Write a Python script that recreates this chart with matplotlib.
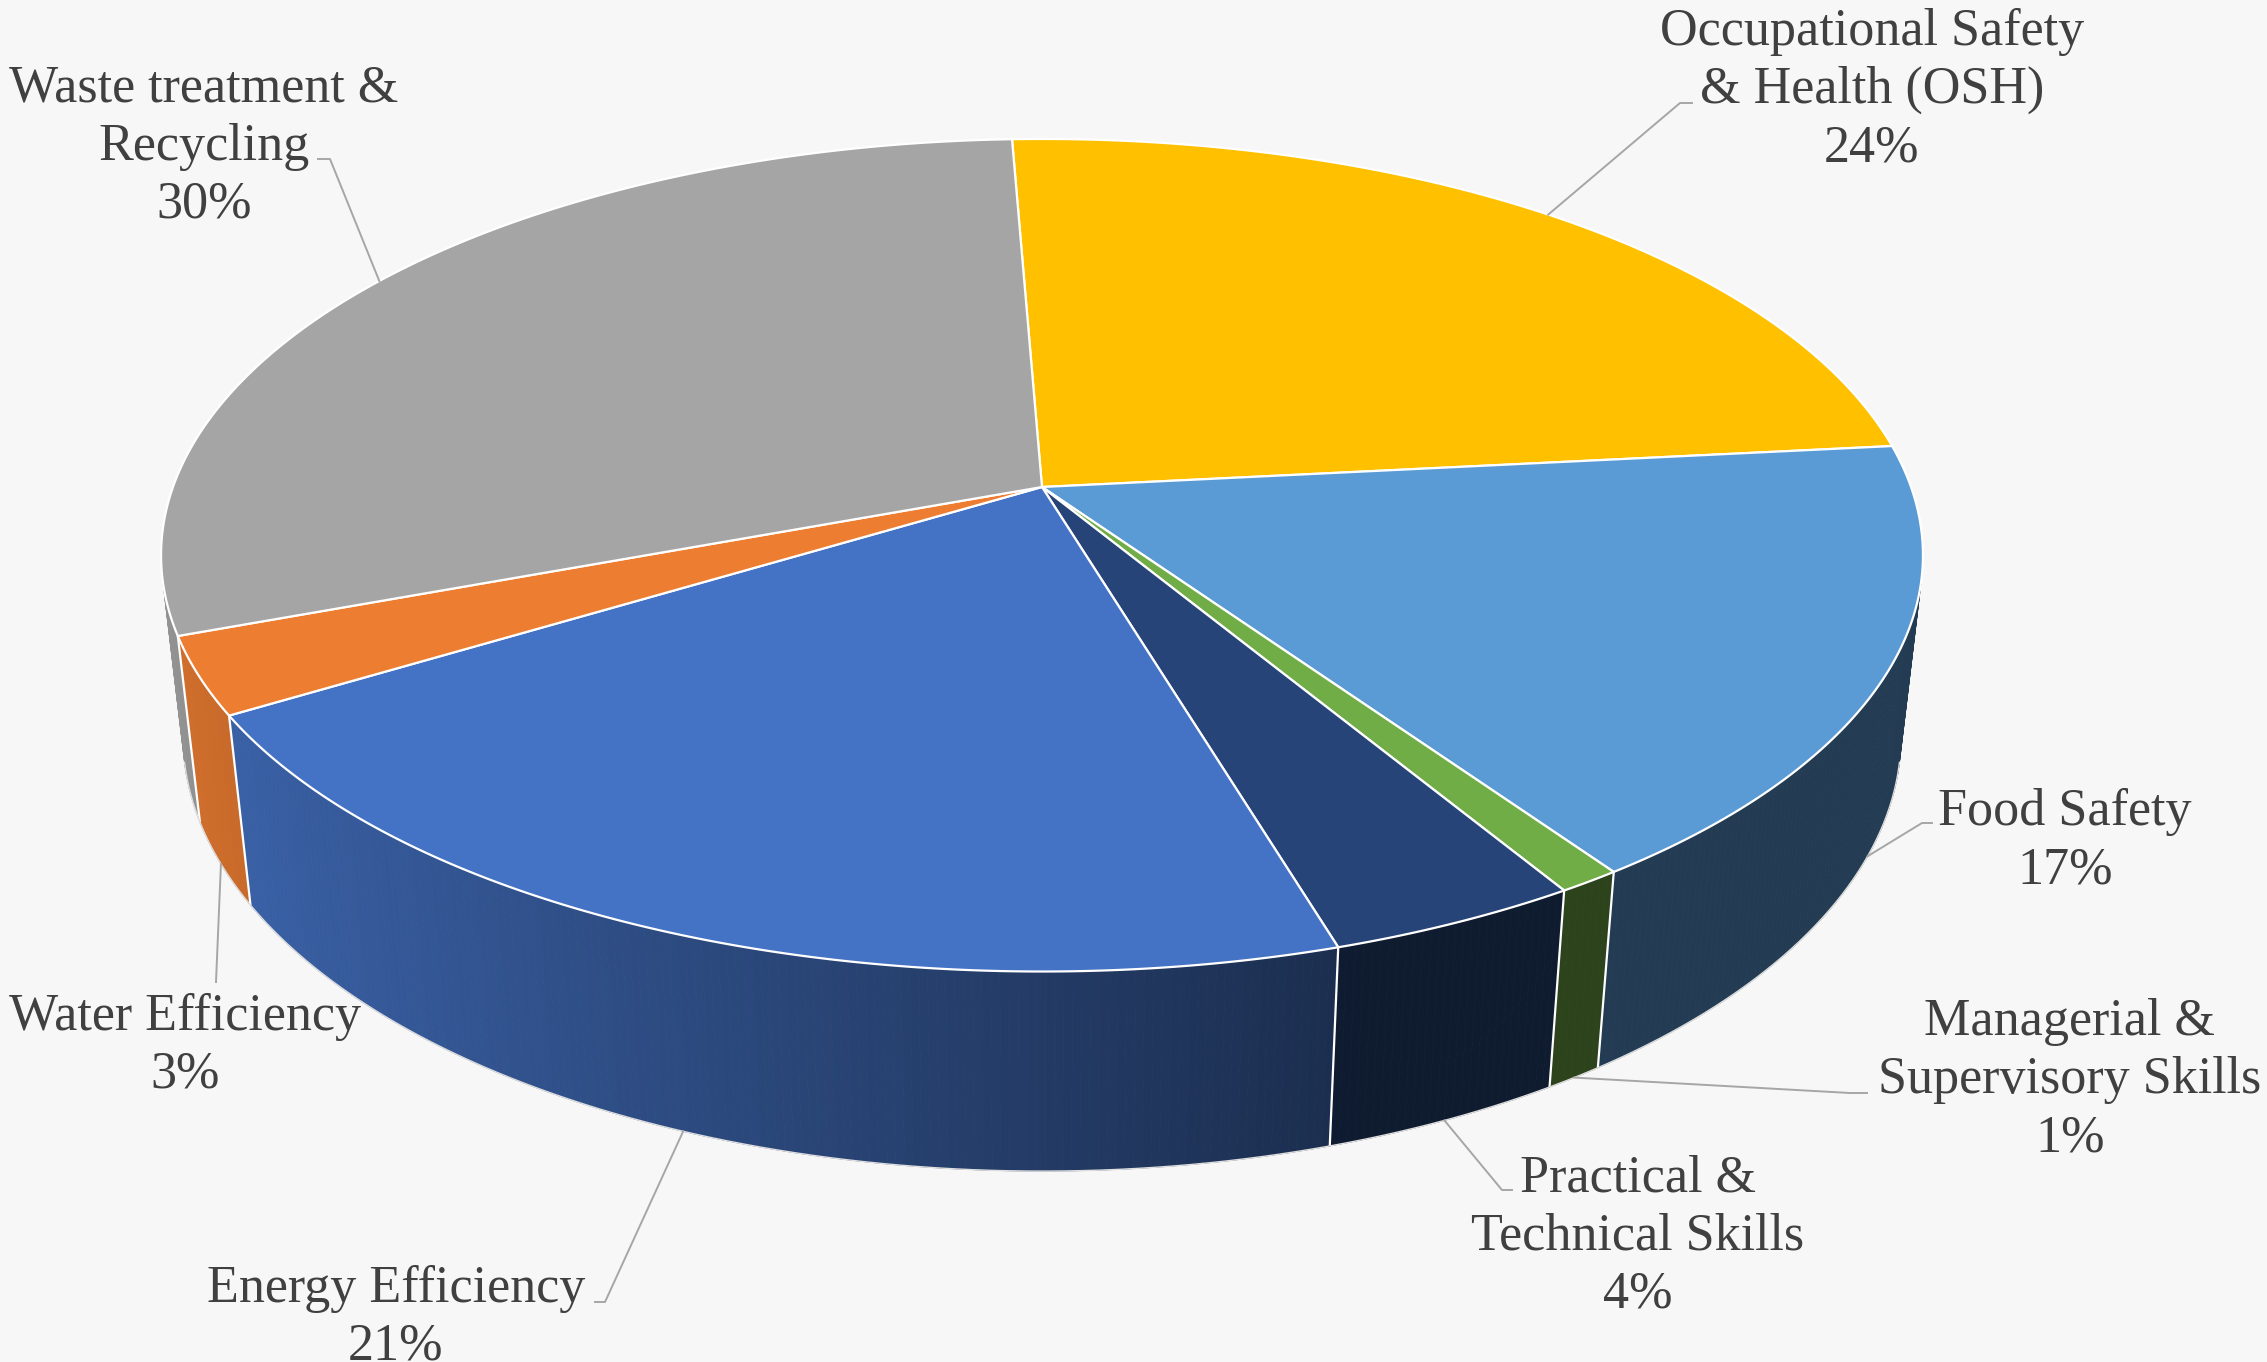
import numpy as np
import matplotlib.pyplot as plt
from matplotlib.patches import Polygon
from matplotlib.colors import to_rgb

# slices, clockwise from 12 o'clock
labels = ["Occupational Safety\n& Health (OSH)", "Food Safety",
          "Managerial &\nSupervisory Skills", "Practical &\nTechnical Skills",
          "Energy Efficiency", "Water Efficiency", "Waste treatment &\nRecycling"]
shares = [24, 17, 1, 4, 21, 3, 30]
colors = ["#FFC000", "#5B9BD5", "#70AD47", "#264478", "#4472C4", "#ED7D31", "#A5A5A5"]

# label layout (pixels): centre x, first baseline y, leader elbow points
label_pos = [(1872, 45), (2065, 825), (2070, 1035), (1638, 1191),
             (396, 1302), (185, 1030), (204, 102)]
leader_pts = [[(1692, 103), (1680, 103)], [(1932, 823), (1922, 823)],
              [(1867, 1093), (1850, 1093)], [(1512, 1190), (1502, 1190)],
              [(595, 1302), (605, 1302)], [(216, 982)], [(318, 159), (330, 159)]]

# perspective view of the disc
CX, CY = 1042, 487
KX, KY = 5301, 2471
R = 6.1
ELEV = np.radians(30)
TAN_E = np.tan(ELEV)
H = 0.262
START = -2.3
LIM = 1 / (R * np.cos(ELEV) ** 2)   # rim faces viewer where sin(theta) < -LIM

BG = "#f7f7f7"
TXT = "#404040"


def proj(theta, z=0.0):
    X, Y = np.cos(theta), np.sin(theta)
    d = R + Y - TAN_E * z
    return CX + KX * X / d, CY - KY * (Y + z / TAN_E) / d


def shade(c, X):
    f = np.clip(0.9 - 0.384 * (X + 1), 0.39, 0.9)
    return tuple(np.array(to_rgb(c)) * f)


fig = plt.figure(figsize=(22.67, 13.62), dpi=100)
fig.patch.set_facecolor(BG)
ax = fig.add_axes([0, 0, 1, 1])
ax.set_xlim(0, 2267)
ax.set_ylim(1362, 0)
ax.axis("off")

# slice angles (math convention, radians)
bounds = START + np.concatenate([[0], np.cumsum(shares)]) * 3.6
th = np.radians(90 - bounds)
vis_lo, vis_hi = -np.pi + np.arcsin(LIM), -np.arcsin(LIM)

# outer rim
for i, c in enumerate(colors):
    hi, lo = th[i], th[i + 1]
    a, b = max(lo, vis_lo), min(hi, vis_hi)
    if a >= b:
        continue
    n = max(2, int(np.degrees(b - a) / 0.5))
    ts = np.linspace(a, b, n + 1)
    for t0, t1 in zip(ts[:-1], ts[1:]):
        x0, y0 = proj(t0)
        x1, y1 = proj(t1)
        x2, y2 = proj(t1, -H)
        x3, y3 = proj(t0, -H)
        col = shade(c, np.cos((t0 + t1) / 2))
        ax.add_patch(Polygon([(x0, y0), (x1, y1), (x2, y2), (x3, y3)],
                             closed=True, fc=col, ec=col, lw=0.6))

for t in th:
    if vis_lo < t < vis_hi:
        xa, ya = proj(t)
        xb, yb = proj(t, -H)
        ax.plot([xa, xb], [ya, yb], color="white", lw=1.6, solid_capstyle="butt")

tb = np.linspace(vis_lo, vis_hi, 300)
bx, by = proj(tb, -H)
ax.plot(bx, by, color="#dedede", lw=1.0)

# top faces
for i, c in enumerate(colors):
    ts = np.linspace(th[i], th[i + 1], 200)
    px, py = proj(ts)
    verts = [(CX, CY)] + list(zip(px, py))
    ax.add_patch(Polygon(verts, closed=True, fc=c, ec="white", lw=1.6,
                         joinstyle="round"))

# labels and leader lines
for i, lab in enumerate(labels):
    mid = (th[i] + th[i + 1]) / 2
    if vis_lo < mid < vis_hi:
        anchor = proj(mid, -H)
    else:
        anchor = proj(mid)
    pts = leader_pts[i] + [anchor]
    ax.plot([p[0] for p in pts], [p[1] for p in pts], color="#a6a6a6", lw=1.4)

    x0, y0 = label_pos[i]
    lines = lab.split("\n") + [f"{shares[i]}%"]
    for k, line in enumerate(lines):
        ax.text(x0, y0 + 58 * k, line, ha="center", va="baseline",
                fontsize=37.5, family="Liberation Serif", color=TXT)

fig.savefig("out.png", dpi=100, facecolor=BG)
